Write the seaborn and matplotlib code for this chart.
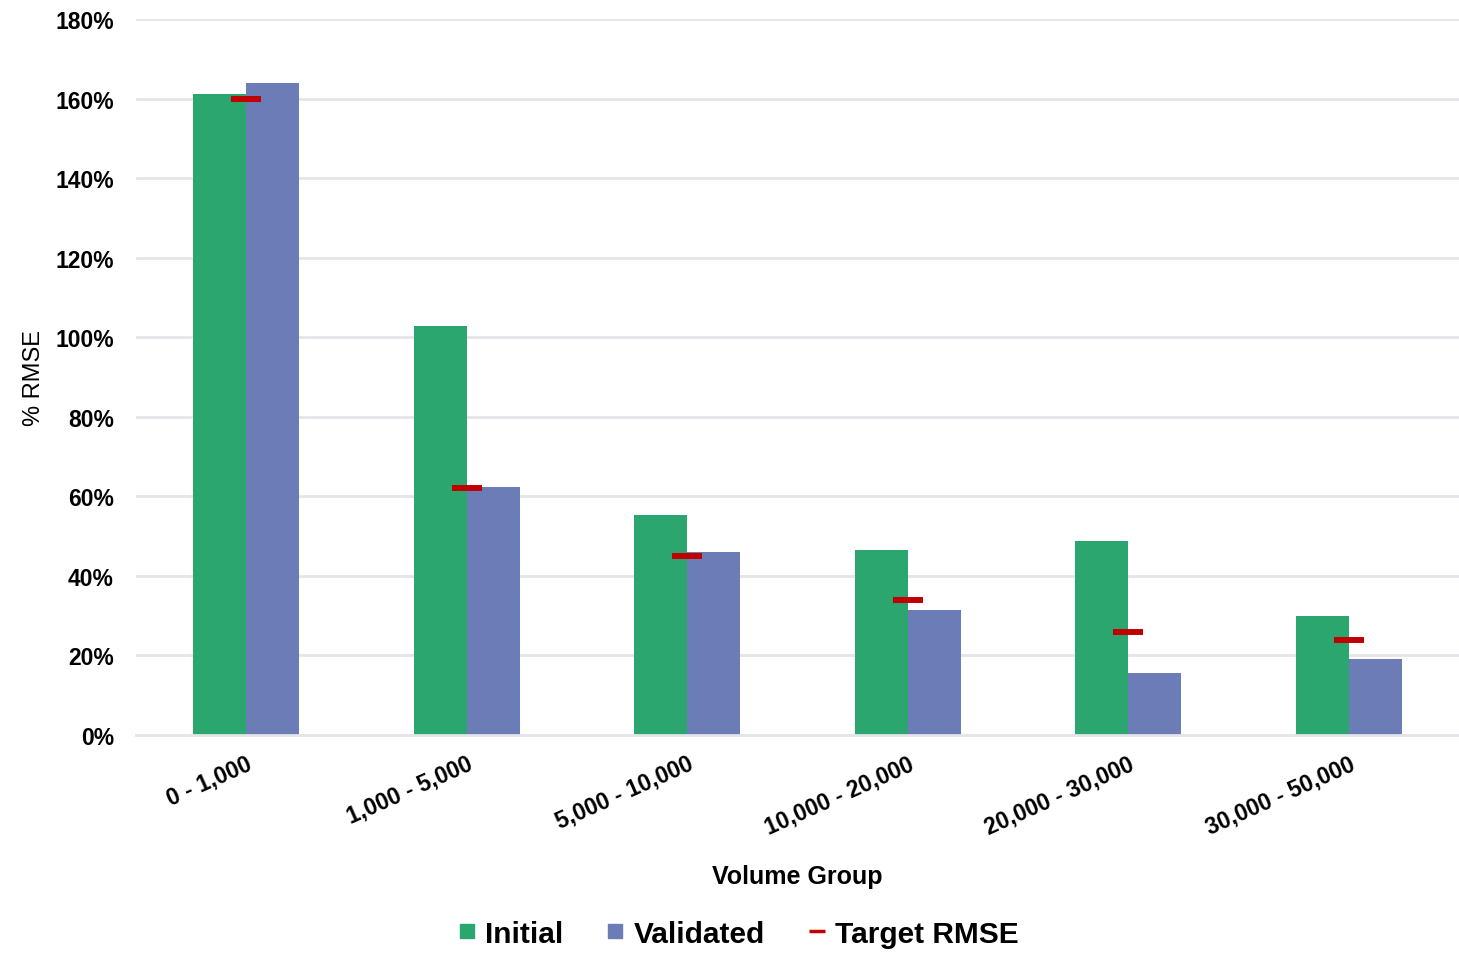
import pandas as pd
import seaborn as sns
import matplotlib.pyplot as plt
from matplotlib.lines import Line2D
from matplotlib.ticker import FuncFormatter

groups = ["0 - 1,000", "1,000 - 5,000", "5,000 - 10,000",
          "10,000 - 20,000", "20,000 - 30,000", "30,000 - 50,000"]
initial = [161.1, 102.8, 55.2, 46.4, 48.7, 29.8]
validated = [163.8, 62.3, 46.0, 31.4, 15.5, 19.0]
target = [160.0, 62.0, 45.0, 34.0, 26.0, 24.0]
y_ticks = [0, 20, 40, 60, 80, 100, 120, 140, 160, 180]

GREEN = "#2CA66F"
BLUE = "#6B7CB7"
RED = "#C00000"
GRID = "#E3E5E8"

sns.set_theme(style="white")
plt.rcParams['font.family'] = ['Liberation Sans', 'DejaVu Sans']
plt.rcParams['text.color'] = 'black'
plt.rcParams['axes.labelcolor'] = 'black'
plt.rcParams['xtick.color'] = 'black'
plt.rcParams['ytick.color'] = 'black'

df = pd.DataFrame({
    "group": groups * 2,
    "rmse": initial + validated,
    "kind": ["Initial"] * len(groups) + ["Validated"] * len(groups),
})

fig = plt.figure(figsize=(14.59, 9.54), dpi=100)
ax = fig.add_axes([136 / 1459, 1 - 736 / 954, 1 - 136 / 1459, (736 - 20) / 954])

sns.barplot(data=df, x="group", y="rmse", hue="kind", order=groups,
            palette={"Initial": GREEN, "Validated": BLUE},
            width=0.48, gap=0, saturation=1, linewidth=0, legend=False, ax=ax)

# target markers sit at the centre of each group
ax.plot(range(len(groups)), target, ls="none", marker="_", ms=21.5, mew=4.3,
        color=RED, zorder=5)

ax.set_xlim(-0.5, 5.5)
ax.set_ylim(0, 180)
ax.set_yticks(y_ticks)
ax.yaxis.set_major_formatter(FuncFormatter(lambda v, p: f"{v:.0f}%"))
ax.grid(axis="y", color=GRID, lw=2)
ax.set_axisbelow(True)
for s in ["top", "right", "left"]:
    ax.spines[s].set_visible(False)
ax.spines["bottom"].set_color(GRID)
ax.spines["bottom"].set_linewidth(2)
ax.tick_params(axis="both", length=0)
ax.tick_params(axis="y", pad=16)

for lab in ax.get_yticklabels():
    lab.set_fontsize(16.5)
    lab.set_fontweight("bold")
ax.set_xticks(range(len(groups)))
ax.set_xticklabels(groups, rotation=24, ha="right", rotation_mode="anchor",
                   fontsize=16.5, fontweight="bold")
ax.tick_params(axis="x", pad=12)

ax.set_xlabel("Volume Group", fontsize=18, fontweight="bold", labelpad=19)
ax.set_ylabel("% RMSE", fontsize=17, labelpad=7)

handles = [
    Line2D([], [], ls="none", marker="s", ms=10, color=GREEN),
    Line2D([], [], ls="none", marker="s", ms=10, color=BLUE),
    Line2D([], [], ls="none", marker="_", ms=12, mew=2.5, color=RED),
]
fig.legend(handles, ["Initial", "Validated", "Target RMSE"], loc="center",
           bbox_to_anchor=(0.505, 0.02), ncol=3, frameon=False,
           handlelength=0.8, handletextpad=0.2, columnspacing=1.35,
           prop={"weight": "bold", "size": 21.5})

fig.savefig("out.png", dpi=100)
